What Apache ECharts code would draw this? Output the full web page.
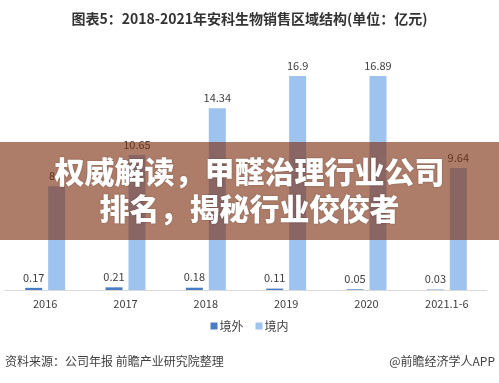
<!DOCTYPE html>
<html><head><meta charset="utf-8">
<script src="https://cdn.jsdelivr.net/npm/echarts@6/dist/echarts.min.js"></script>
<style>html,body{margin:0;padding:0;background:#fff}#c{width:499px;height:383px}</style>
</head><body><div id="c"></div>
<script>
var categories = ['2016','2017','2018','2019','2020','2021.1-6'];
var overseas = [0.17, 0.21, 0.18, 0.11, 0.05, 0.03];
var domestic = [8.2, 10.65, 14.34, 16.9, 16.89, 9.64];
var seriesNames = ['境外','境内'];
var titleText = '图表5：2018-2021年安科生物销售区域结构(单位：亿元)';
var sourceText = '资料来源：公司年报 前瞻产业研究院整理';
var creditText = '@前瞻经济学人APP';
var bannerLines = ['权威解读，甲醛治理行业公司','排名，揭秘行业佼佼者'];

var font = '"Noto Sans CJK SC","Microsoft YaHei",sans-serif';
var chart = echarts.init(document.getElementById('c'));
var lbl = {show:true, position:'top', distance:5, color:'#404040', fontSize:11, fontFamily:font};
chart.setOption({
  animation:false,
  title:{text:titleText, left:'center', top:7, textStyle:{fontSize:14, fontWeight:'bold', color:'#333', fontFamily:font}},
  legend:{data:seriesNames, bottom:46, left:'center', itemWidth:7, itemHeight:7, itemGap:12, icon:'rect',
    textStyle:{fontSize:12, color:'#404040', fontFamily:font, padding:[0,0,0,-3]}},
  grid:{left:5, right:12, top:62, bottom:93},
  xAxis:{type:'category', data:categories, axisTick:{show:false},
    axisLine:{lineStyle:{color:'#d9d9d9', width:1}},
    axisLabel:{color:'#404040', fontSize:11, fontFamily:font, margin:8}},
  yAxis:{type:'value', min:0, max:18, show:false, splitLine:{show:false}},
  series:[
    {name:seriesNames[0], type:'bar', data:overseas, barWidth:17, barGap:'35%', itemStyle:{color:'#4a7cc2'}, label:lbl},
    {name:seriesNames[1], type:'bar', data:domestic, barWidth:17, itemStyle:{color:'#9fc3ef'}, label:lbl}
  ],
  graphic:[
    {type:'text', left:5, top:355, style:{text:sourceText, fill:'#404040', font:'12px '+font}},
    {type:'text', right:4, top:355, style:{text:creditText, fill:'#404040', font:'12px '+font}},
    {type:'rect', left:0, top:142, z:100, shape:{width:499, height:98}, style:{fill:'rgba(125,45,15,0.62)'}},
    {type:'text', left:'center', top:157, z:101, style:{text:bannerLines[0], fill:'#fff', font:'900 30px '+font, textShadowColor:'rgba(0,0,0,0.3)', textShadowBlur:2}},
    {type:'text', left:'center', top:194, z:101, style:{text:bannerLines[1], fill:'#fff', font:'900 30px '+font, textShadowColor:'rgba(0,0,0,0.3)', textShadowBlur:2}}
  ]
});
</script></body></html>
